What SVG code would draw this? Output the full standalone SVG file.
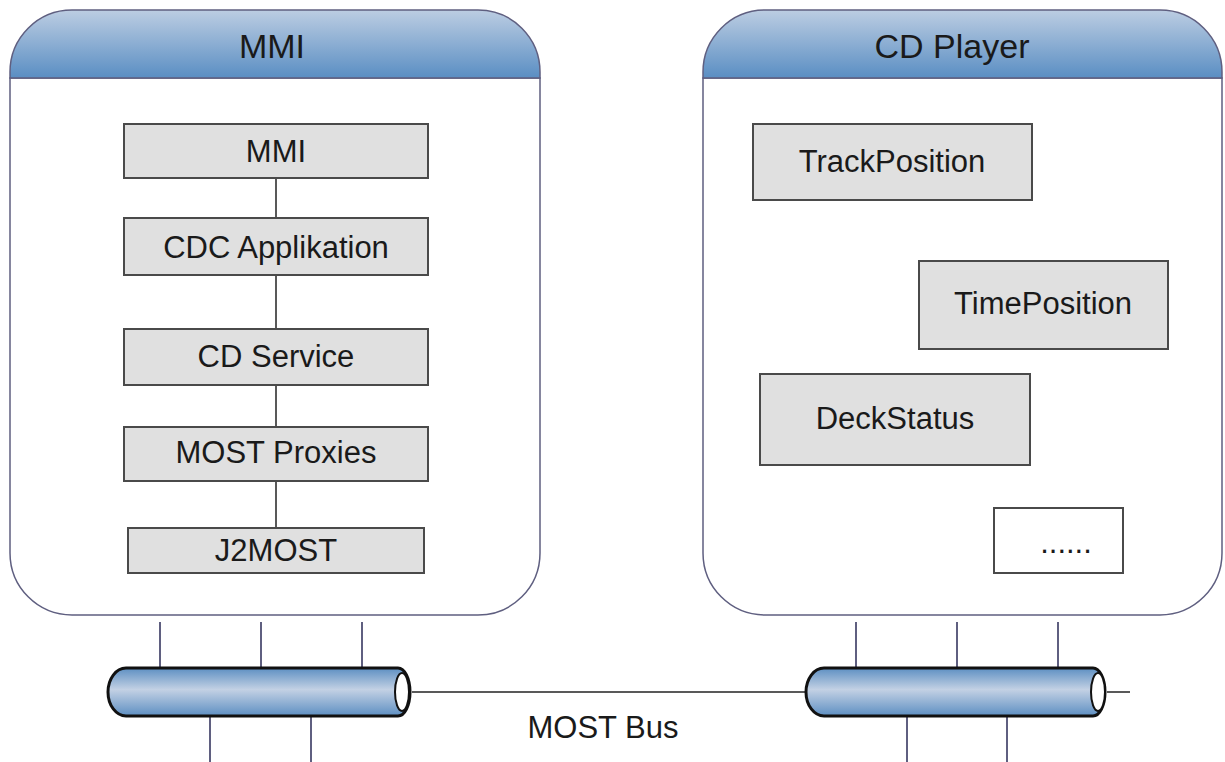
<svg xmlns="http://www.w3.org/2000/svg" width="1225" height="762" viewBox="0 0 1225 762">
<defs>
<linearGradient id="hdr" x1="0" y1="0" x2="0" y2="1">
<stop offset="0" stop-color="#bccde2"/>
<stop offset="1" stop-color="#5a8ec3"/>
</linearGradient>
<linearGradient id="cyl" x1="0" y1="0" x2="0" y2="1">
<stop offset="0" stop-color="#5d8fc2"/>
<stop offset="0.45" stop-color="#c3d1e4"/>
<stop offset="1" stop-color="#5d8fc2"/>
</linearGradient>
<style>
.cont{fill:#fff;stroke:#5f5f80;stroke-width:1.5}
.hdr{fill:url(#hdr);stroke:#5f5f80;stroke-width:1.5}
.title{font-family:"Liberation Sans",Arial,sans-serif;font-size:34px;fill:#1a1a1a;text-anchor:middle}
.box{fill:#e0e0e0;stroke:#4a4a4a;stroke-width:2}
.wbox{fill:#fff;stroke:#4a4a4a;stroke-width:2}
.lbl{font-family:"Liberation Sans",Arial,sans-serif;font-size:31px;fill:#1a1a1a;text-anchor:middle}
.tap{stroke:#5f5f80;stroke-width:2;fill:none}
.ln{stroke:#222;stroke-width:1.5;fill:none}
.cyl{fill:url(#cyl);stroke:#111;stroke-width:3}
</style>
</defs>
<g id="mmi-container">
<path class="cont" d="M10,78 L10,553 A62,62 0 0 0 72,615 L478,615 A62,62 0 0 0 540,553 L540,78 Z"/>
<path class="hdr" d="M10,78 L10,72 A62,62 0 0 1 72,10 L478,10 A62,62 0 0 1 540,72 L540,78 Z"/>
<text class="title" x="272" y="58">MMI</text>
</g>
<g id="cd-container">
<path class="cont" d="M703,78 L703,553 A62,62 0 0 0 765,615 L1160,615 A62,62 0 0 0 1222,553 L1222,78 Z"/>
<path class="hdr" d="M703,78 L703,72 A62,62 0 0 1 765,10 L1160,10 A62,62 0 0 1 1222,72 L1222,78 Z"/>
<text class="title" x="952" y="58">CD Player</text>
</g>
<g id="connectors">
<line class="ln" x1="276" y1="178" x2="276" y2="218"/>
<line class="ln" x1="276" y1="275" x2="276" y2="329"/>
<line class="ln" x1="276" y1="385" x2="276" y2="427"/>
<line class="ln" x1="276" y1="481" x2="276" y2="528"/>
<line class="tap" x1="160" y1="622" x2="160" y2="668"/>
<line class="tap" x1="261" y1="622" x2="261" y2="668"/>
<line class="tap" x1="362" y1="622" x2="362" y2="668"/>
<line class="tap" x1="210" y1="716" x2="210" y2="762"/>
<line class="tap" x1="311" y1="716" x2="311" y2="762"/>
<line class="tap" x1="856" y1="622" x2="856" y2="668"/>
<line class="tap" x1="957" y1="622" x2="957" y2="668"/>
<line class="tap" x1="1058" y1="622" x2="1058" y2="668"/>
<line class="tap" x1="907" y1="716" x2="907" y2="762"/>
<line class="tap" x1="1007" y1="716" x2="1007" y2="762"/>
<line class="ln" x1="412" y1="692" x2="816" y2="692"/>
<line class="ln" x1="1107" y1="692" x2="1130" y2="692"/>
</g>
<g id="n-mmi"><rect class="box" x="124" y="124" width="304" height="54"/><text class="lbl" x="276" y="162">MMI</text></g>
<g id="n-cdc"><rect class="box" x="124" y="218" width="304" height="57"/><text class="lbl" x="276" y="258">CDC Applikation</text></g>
<g id="n-cdservice"><rect class="box" x="124" y="329" width="304" height="56"/><text class="lbl" x="276" y="367">CD Service</text></g>
<g id="n-proxies"><rect class="box" x="124" y="427" width="304" height="54"/><text class="lbl" x="276" y="463">MOST Proxies</text></g>
<g id="n-j2most"><rect class="box" x="128" y="528" width="296" height="45"/><text class="lbl" x="276" y="561">J2MOST</text></g>
<g id="n-track"><rect class="box" x="753" y="124" width="279" height="76"/><text class="lbl" x="892" y="172">TrackPosition</text></g>
<g id="n-time"><rect class="box" x="919" y="261" width="249" height="88"/><text class="lbl" x="1043" y="314">TimePosition</text></g>
<g id="n-deck"><rect class="box" x="760" y="374" width="270" height="91"/><text class="lbl" x="895" y="429">DeckStatus</text></g>
<g id="n-more"><rect class="wbox" x="994" y="508" width="129" height="65"/><text class="lbl" x="1066" y="553">......</text></g>
<g id="bus-left">
<path class="cyl" d="M126,668 L398,668 A12,24 0 0 1 398,716 L126,716 A18,24 0 0 1 126,668 Z"/>
<ellipse cx="402" cy="692" rx="7" ry="19" fill="#fff" stroke="#111" stroke-width="2"/>
</g>
<g id="bus-right">
<path class="cyl" d="M824,668 L1093,668 A12,24 0 0 1 1093,716 L824,716 A18,24 0 0 1 824,668 Z"/>
<ellipse cx="1098" cy="692" rx="7" ry="19" fill="#fff" stroke="#111" stroke-width="2"/>
</g>
<text class="lbl" x="603" y="738">MOST Bus</text>
</svg>
